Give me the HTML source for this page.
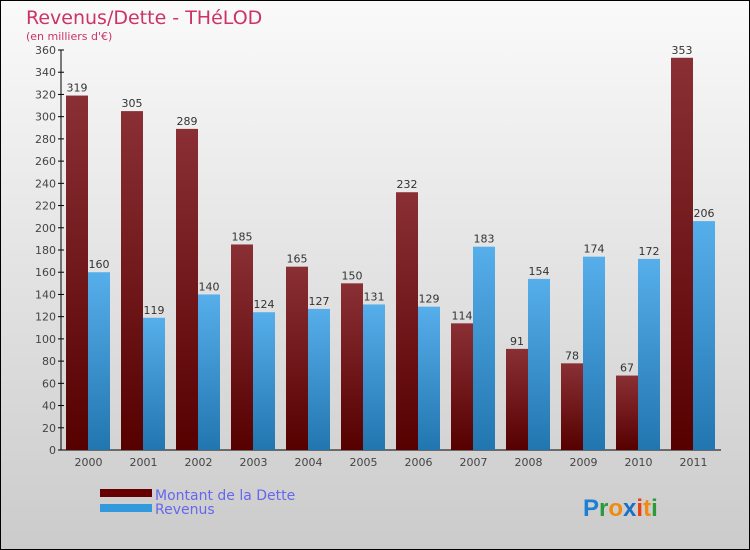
<!DOCTYPE html>
<html><head><meta charset="utf-8"><style>
body{margin:0;}
#c{width:750px;height:550px;position:relative;box-sizing:border-box;border:1px solid #000;background:linear-gradient(#fafafa,#cbcbcb);font-family:"DejaVu Sans","Liberation Sans",sans-serif;overflow:hidden}
</style></head><body>
<div id="c">
<svg id="s" width="750" height="550" style="position:absolute;left:-1px;top:-1px">
<defs>
<linearGradient id="gd" x1="0" y1="0" x2="0" y2="1"><stop offset="0" stop-color="#8a3035"/><stop offset="1" stop-color="#560000"/></linearGradient>
<linearGradient id="gr" x1="0" y1="0" x2="0" y2="1"><stop offset="0" stop-color="#56aeea"/><stop offset="1" stop-color="#2276b0"/></linearGradient>
</defs>
<text x="26" y="24" font-size="19" fill="#cc3366">Revenus/Dette - THéLOD</text>
<text x="26" y="40" font-size="11" fill="#cc3366">(en milliers d'€)</text>
<g id="axes"></g><g id="bars"></g>
<rect x="100" y="489" width="52" height="8" fill="#660000"/>
<rect x="100" y="504" width="52" height="8" fill="#3399dd"/>
<text x="155" y="500" font-size="14" fill="#6666ee">Montant de la Dette</text>
<text x="155" y="514" font-size="14" fill="#6666ee">Revenus</text>
<g font-size="24" font-weight="bold" font-family="Liberation Sans, sans-serif">
<text x="583" y="516"><tspan fill="#1b7fd6">P</tspan><tspan fill="#2a9a3a">r</tspan><tspan fill="#f08a10">o</tspan><tspan fill="#1b6fc6">x</tspan><tspan fill="#e84010">i</tspan><tspan fill="#f08a10">t</tspan><tspan fill="#2a9a3a">i</tspan></text></g>
</svg></div>
<script>
const years=["2000","2001","2002","2003","2004","2005","2006","2007","2008","2009","2010","2011"];
const dette=[319,305,289,185,165,150,232,114,91,78,67,353];
const revenus=[160,119,140,124,127,131,129,183,154,174,172,206];
const ticks=[0,20,40,60,80,100,120,140,160,180,200,220,240,260,280,300,320,340,360];
const NS="http://www.w3.org/2000/svg";
const x0=61,x1=721,y0=450,yTop=50,ymax=360;
const gw=(x1-x0)/years.length;
const Y=v=>y0-(v/ymax)*(y0-yTop);
function mk(t,a,p,txt){const e=document.createElementNS(NS,t);for(const k in a)e.setAttribute(k,a[k]);if(txt!=null)e.textContent=txt;p.appendChild(e);return e;}
const ax=document.getElementById('axes'),bg=document.getElementById('bars');
let l=mk('line',{x1:x0,y1:yTop,x2:x0,y2:y0,stroke:'#000'},ax);


l=mk('line',{x1:x0,y1:y0,x2:x1,y2:y0,stroke:'#000'},ax);


ticks.forEach(t=>{const y=Y(t);mk('line',{x1:x0-3,y1:y,x2:x0+3,y2:y,stroke:'#000'},ax);
const e=mk('text',{x:x0-5,y:y+4,'font-size':11,fill:'#444','text-anchor':'end'},ax,t);

});
years.forEach((yr,i)=>{const gx=x0+gw*i;
const e=mk('text',{x:gx+gw/2,y:y0+16,'font-size':11,fill:'#444','text-anchor':'middle'},ax,yr);


[[dette[i],'url(#gd)',5,'dette'],[revenus[i],'url(#gr)',27,'revenus']].forEach(([v,f,o,n])=>{
const r=mk('rect',{x:gx+o,y:Y(v),width:22,height:y0-Y(v),fill:f},bg);


const t=mk('text',{x:gx+o+11,y:Y(v)-4,'font-size':11,fill:'#333','text-anchor':'middle'},bg,v);

});});
</script>
</body></html>
